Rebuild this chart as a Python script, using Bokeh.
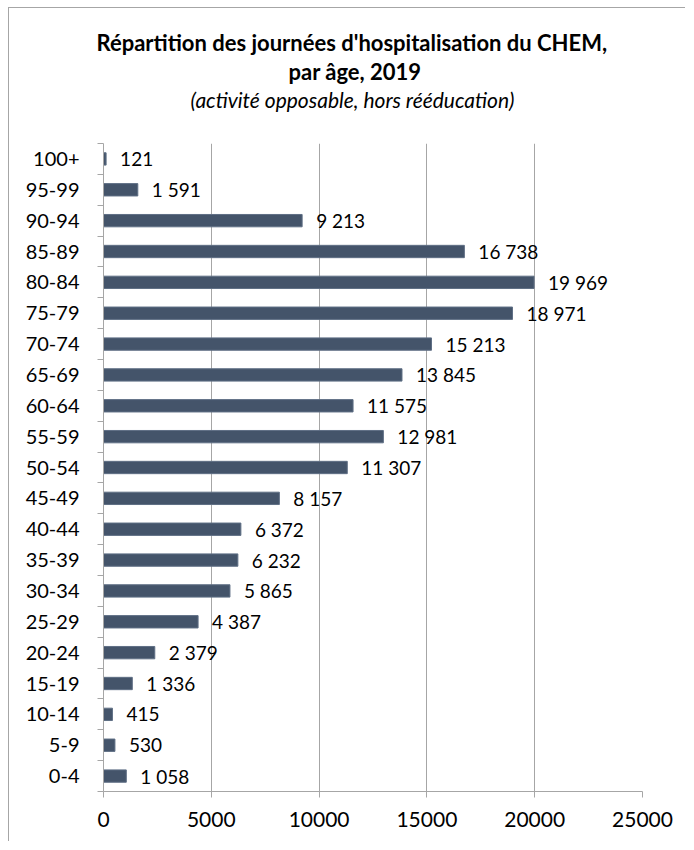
from bokeh.plotting import figure
from bokeh.models import ColumnDataSource, Range1d, FixedTicker, Title
from bokeh.core.properties import value
from bokeh.embed import file_html
from bokeh.resources import INLINE

ages = ["0-4", "5-9", "10-14", "15-19", "20-24", "25-29", "30-34", "35-39",
        "40-44", "45-49", "50-54", "55-59", "60-64", "65-69", "70-74",
        "75-79", "80-84", "85-89", "90-94", "95-99", "100+"]
days = [1058, 530, 415, 1336, 2379, 4387, 5865, 6232, 6372, 8157, 11307,
        12981, 11575, 13845, 15213, 18971, 19969, 16738, 9213, 1591, 121]
x_ticks = [0, 5000, 10000, 15000, 20000, 25000]

title_1 = "Répartition des journées d'hospitalisation du CHEM,"
title_2 = "par âge, 2019"
subtitle = "(activité opposable, hors rééducation)"

FONT = "Lato"
BAR = "#44546A"
GRID = "#A6A6A6"

ypos = [i + 0.5 for i in range(len(ages))]
labels = [f"{v:,}".replace(",", " ") for v in days]
src = ColumnDataSource(dict(y=ypos, v=days, lab=labels))

p = figure(width=677, height=834, output_backend="svg", toolbar_location=None,
           x_range=Range1d(0, 25000), y_range=Range1d(0, len(ages)),
           min_border_left=94, min_border_right=44, min_border_top=135,
           min_border_bottom=51)
p.styles = {"border-left": f"1px solid {GRID}", "border-top": f"1px solid {GRID}",
            "margin-left": "8px", "margin-top": "7px"}
p.outline_line_color = None

p.hbar(y="y", right="v", left=0, height=0.4, source=src,
       fill_color=BAR, line_color="#5F6F85", line_width=1)
p.text(x="v", y="y", text="lab", source=src, x_offset=14,
       text_baseline="middle", text_align="left", text_font_size="19px",
       text_font=value(FONT), text_color="#000000")

# x axis
p.xaxis.ticker = FixedTicker(ticks=x_ticks)
p.xaxis.axis_line_color = GRID
p.xaxis.major_tick_line_color = GRID
p.xaxis.major_tick_out = 6
p.xaxis.major_tick_in = 0
p.xaxis.minor_tick_line_color = None
p.xaxis.major_label_text_font = FONT
p.xaxis.major_label_text_font_size = "21px"
p.xaxis.major_label_text_color = "#000000"
p.xaxis.major_label_standoff = 14

# y axis
p.yaxis.ticker = FixedTicker(ticks=ypos, minor_ticks=list(range(len(ages) + 1)))
p.yaxis.major_label_overrides = {y: a for y, a in zip(ypos, ages)}
p.yaxis.axis_line_color = GRID
p.yaxis.major_tick_line_color = None
p.yaxis.major_tick_out = 0
p.yaxis.major_tick_in = 0
p.yaxis.minor_tick_line_color = GRID
p.yaxis.minor_tick_out = 6
p.yaxis.minor_tick_in = 0
p.yaxis.major_label_text_font = FONT
p.yaxis.major_label_text_font_size = "20px"
p.yaxis.major_label_text_color = "#000000"
p.yaxis.major_label_standoff = 18

p.xgrid.ticker = FixedTicker(ticks=x_ticks)
p.xgrid.grid_line_color = GRID
p.ygrid.grid_line_color = None

# spacer between frame and subtitle
p.add_layout(Title(text=" ", text_font_size="10px", standoff=19), "above")
# titles: nearest the frame first
for txt, size, style, offset in [(subtitle, "21px", "italic", 87),
                                 (title_2, "22px", "bold", 185),
                                 (title_1, "22px", "bold", -7)]:
    p.add_layout(Title(text=txt, align="left", text_font=FONT,
                       text_font_size=size, text_font_style=style,
                       text_color="#000000", standoff=0, offset=offset), "above")

open("out.html", "w").write(file_html(p, INLINE))
